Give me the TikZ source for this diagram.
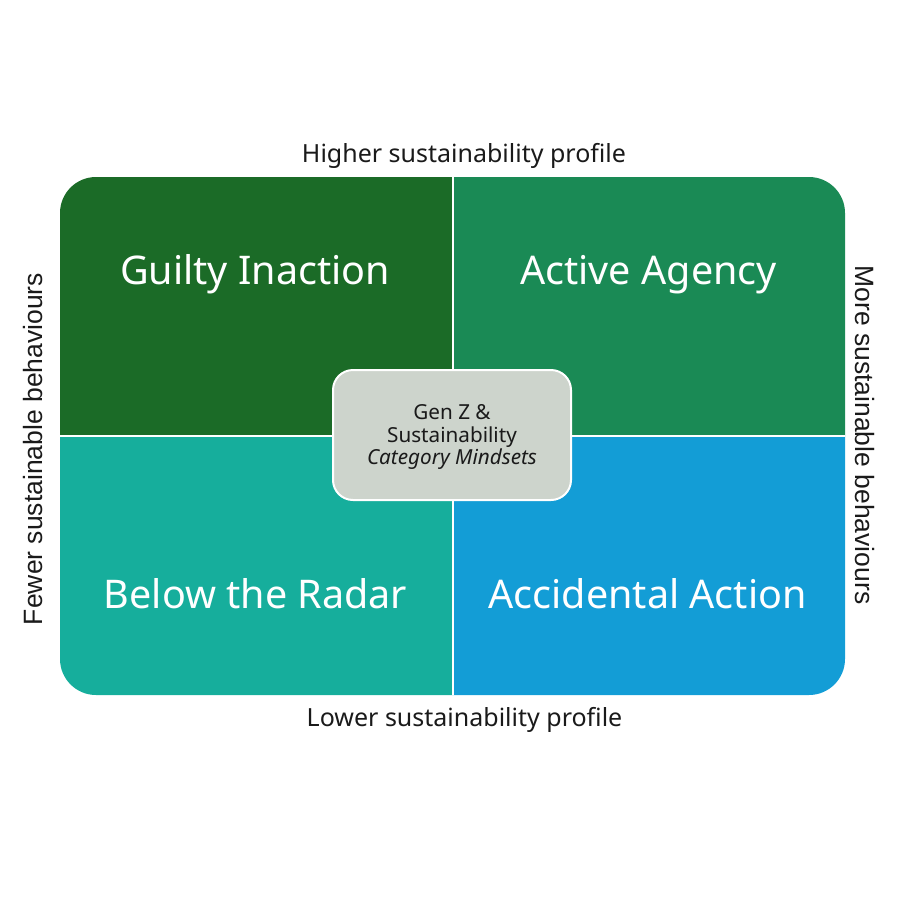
\documentclass[tikz,border=0pt]{standalone}
\usepackage{fontspec}
\setmainfont{Noto Sans}
\newfontfamily\sidefont{Liberation Sans}
\definecolor{qtl}{HTML}{1B6B27}
\definecolor{qtr}{HTML}{1A8A55}
\definecolor{qbl}{HTML}{16AE9C}
\definecolor{qbr}{HTML}{139DD6}
\definecolor{cbox}{HTML}{CDD4CC}
\definecolor{txt}{HTML}{1A1A1A}
\begin{document}
\begin{tikzpicture}[x=1pt,y=-1pt,
  qlabel/.style={text=white,font=\fontsize{39.5}{44}\selectfont,inner sep=0pt,anchor=base},
  axlabel/.style={text=txt,font=\fontsize{25}{30}\selectfont,inner sep=0pt,anchor=base},
  sidelabel/.style={text=txt,font=\sidefont\fontsize{26.5}{30}\selectfont,inner sep=0pt},
  centerbox/.style={draw=white,line width=2pt,fill=cbox,rounded corners=20pt,
    minimum width=238pt,minimum height=130pt,inner sep=0pt},
  centertext/.style={text=txt,font=\fontsize{20.7}{22.5}\selectfont,inner sep=0pt,anchor=base}]
\useasboundingbox (0,0) rectangle (900,900);
\begin{scope}
  \clip[rounded corners=36pt] (60,177) rectangle (845,695);
  \fill[qtl] (40,160) rectangle (453,436);
  \fill[qtr] (453,160) rectangle (865,436);
  \fill[qbl] (40,436) rectangle (453,715);
  \fill[qbr] (453,436) rectangle (865,715);
  \draw[white,line width=2pt] (453,160) -- (453,715);
  \draw[white,line width=2pt] (40,436) -- (865,436);
\end{scope}
\node[qlabel] (gi) at (255,284) {Guilty Inaction};
\node[qlabel] (aa) at (648.5,284) {Active Agency};
\node[qlabel] (br) at (255.5,608) {Below the Radar};
\node[qlabel] (ac) at (647.5,608) {Accidental Action};
\node[centerbox] (c) at (452,435) {};
\node[centertext] (c1) at (452,419) {Gen Z \&};
\node[centertext] (c2) at (452,442) {Sustainability};
\node[centertext] (c3) at (452,464.5) {\itshape Category Mindsets};
\node[axlabel] (top) at (464,162) {Higher sustainability profile};
\node[axlabel] (bot) at (464.5,726.5) {Lower sustainability profile};
\node[sidelabel,rotate=90] (left) at (33,449) {Fewer sustainable behaviours};
\node[sidelabel,rotate=-90] (right) at (865,435) {More sustainable behaviours};
\end{tikzpicture}
\end{document}
